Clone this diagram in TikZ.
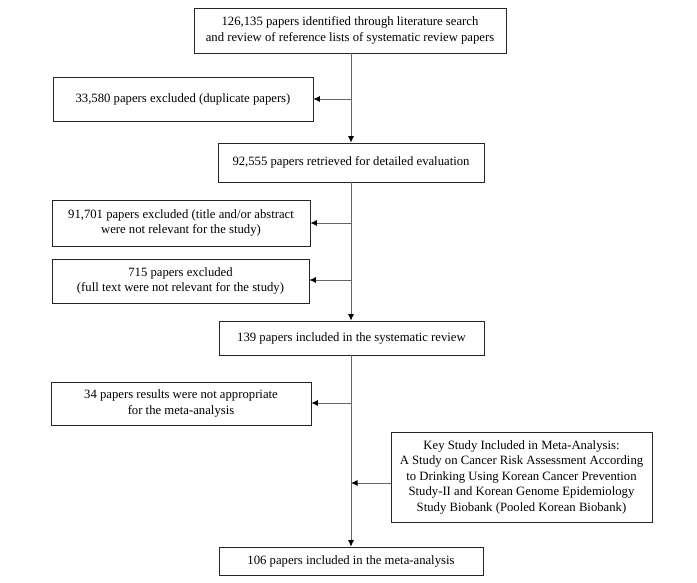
\documentclass[tikz,border=0pt]{standalone}
\usepackage{fontspec}
\setmainfont{Liberation Serif}
\usetikzlibrary{arrows.meta}
\begin{document}
\begin{tikzpicture}[x=1pt,y=-1pt,
  box/.style={draw=black!85, line width=0.8pt, align=center, inner sep=0pt,
    font=\fontsize{12.7}{15.5}\selectfont},
  flow/.style={draw=black!60, line width=0.8pt},
  arr/.style={flow, -{Latex[length=6.5pt,width=6pt,fill=black,color=black]}}]
\useasboundingbox (0,0) rectangle (697,582);
\fill[white] (0,0) rectangle (697,582);
\node[box, minimum width=312pt, minimum height=45pt] (top) at (350,30.5)
  {126,135 papers identified through literature search\\and review of reference lists of systematic review papers};
\node[box, minimum width=260pt, minimum height=44pt] (dup) at (183,99)
  {33,580 papers excluded (duplicate papers)};
\node[box, minimum width=266pt, minimum height=39pt] (ret) at (351,162.5)
  {92,555 papers retrieved for detailed evaluation};
\node[box, minimum width=258pt, minimum height=46pt] (abs) at (181,223)
  {91,701 papers excluded (title and/or abstract\\were not relevant for the study)};
\node[box, minimum width=257pt, minimum height=44pt] (full) at (180.5,281)
  {715 papers excluded\\(full text were not relevant for the study)};
\node[box, minimum width=265pt, minimum height=34pt] (sys) at (351.5,338)
  {139 papers included in the systematic review};
\node[box, minimum width=260pt, minimum height=43pt] (nap) at (181,403.5)
  {34 papers results were not appropriate\\for the meta-analysis};
\node[box, minimum width=261pt, minimum height=90pt] (key) at (521.5,477)
  {Key Study Included in Meta-Analysis:\\A Study on Cancer Risk Assessment According\\to Drinking Using Korean Cancer Prevention\\Study-II and Korean Genome Epidemiology\\Study Biobank (Pooled Korean Biobank)};
\node[box, minimum width=264pt, minimum height=28pt] (meta) at (351,561)
  {106 papers included in the meta-analysis};
\coordinate (j1) at (351,99);
\coordinate (j2) at (351,223);
\coordinate (j3) at (351,280);
\coordinate (j4) at (351,403);
\coordinate (j5) at (351,483);
\draw[arr] (top.south -| j1) -- (ret.north -| j1);
\draw[arr] (j1) -- (dup.east);
\draw[arr] (ret.south -| j1) -- (sys.north -| j1);
\draw[arr] (j2) -- (abs.east |- j2);
\draw[arr] (j3) -- (full.east |- j3);
\draw[arr] (sys.south -| j1) -- (meta.north -| j1);
\draw[arr] (j4) -- (nap.east |- j4);
\draw[arr] (key.west |- j5) -- (j5);
\end{tikzpicture}
\end{document}
